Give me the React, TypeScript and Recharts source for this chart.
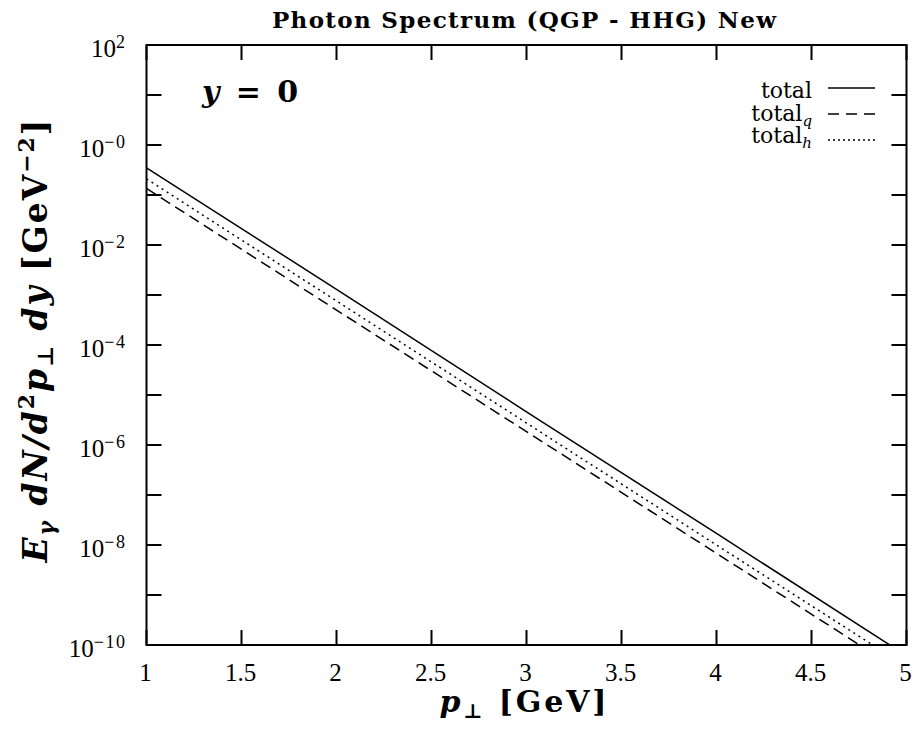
import { LineChart, Line, XAxis, YAxis, ReferenceArea, Legend, Customized } from 'recharts';

const pT = [1, 2, 3, 4, 5];
// E dN/d2p dy [GeV^-2]
const total = [0.35, 1.3e-3, 4.6e-6, 1.7e-8, 6.1e-11];
const totalQ = [0.135, 5.0e-4, 1.85e-6, 6.8e-9, 2.5e-11];
const totalH = [0.21, 7.6e-4, 2.75e-6, 1.0e-8, 3.7e-11];

const xTicks = [1, 1.5, 2, 2.5, 3, 3.5, 4, 4.5, 5];
const yTickExps = [2, 1, 0, -1, -2, -3, -4, -5, -6, -7, -8, -9, -10];

const data = pT.map((p, i) => ({ p, total: total[i], totalQ: totalQ[i], totalH: totalH[i] }));

const series = [
  { key: 'total', label: 'total', sub: '', dash: undefined as string | undefined, legendDash: undefined as string | undefined },
  { key: 'totalQ', label: 'total', sub: 'q', dash: '11 6', legendDash: '11 7' },
  { key: 'totalH', label: 'total', sub: 'h', dash: '2 4', legendDash: '2 3' },
];

const W = 917;
const H = 734;
// plot box: x 146.5..906.5, y 45..645 (axes take 1px each)
const margin = { top: 45, right: 10.5, bottom: 88, left: 145.5 };
const PL = 146.5;
const PR = W - margin.right;
const PT = margin.top;
const PB = 645;
const TICK = 15;

const tickFont = "'Liberation Serif', serif";
const mathFont = "'DejaVu Serif', serif";

const XTick = (props: any) => {
  const { x, payload } = props;
  return (
    <g>
      <line x1={x} y1={PB} x2={x} y2={PB - TICK} stroke="#000" strokeWidth={2} />
      <line x1={x} y1={PT} x2={x} y2={PT + TICK} stroke="#000" strokeWidth={2} />
      <text x={x - 1} y={PB + 36} textAnchor="middle" fontFamily={tickFont} fontSize={25} fill="#000">
        {payload.value}
      </text>
    </g>
  );
};

const YTick = (props: any) => {
  const { y, payload } = props;
  const exp = Math.round(Math.log10(payload.value));
  const major = exp % 2 === 0;
  const sup = exp > 0 ? String(exp) : '\u2212' + String(-exp);
  return (
    <g>
      <line x1={PL} y1={y} x2={PL + TICK} y2={y} stroke="#000" strokeWidth={2} />
      <line x1={PR} y1={y} x2={PR - TICK} y2={y} stroke="#000" strokeWidth={2} />
      {major && (
        <text x={PL - 20} y={y + 12} textAnchor="end" fontFamily={tickFont} fontSize={25} fill="#000">
          10
          <tspan dy={-9} fontSize={18} letterSpacing={1.5}>
            {sup}
          </tspan>
        </text>
      )}
    </g>
  );
};

const LegendBox = () => (
  <svg width={200} height={100} style={{ display: 'block' }}>
    {series.map((s, i) => (
      <g key={s.key}>
        <text x={112} y={28 + i * 22.5} textAnchor="end" fontFamily={mathFont} fontSize={22} fill="#000">
          {s.label}
          {s.sub && (
            <tspan dy={5} fontSize={15} fontStyle="italic">
              {s.sub}
            </tspan>
          )}
        </text>
        <line x1={128} x2={175} y1={18 + i * 26} y2={18 + i * 26} stroke="#000" strokeWidth={1.4} strokeDasharray={s.legendDash} />
      </g>
    ))}
  </svg>
);

const Annotations = () => (
  <g fill="#000">
    <text x={524} y={28} textAnchor="middle" fontFamily={mathFont} fontWeight="bold" fontSize={23} textLength={504} lengthAdjust="spacing">
      Photon Spectrum (QGP - HHG) New
    </text>
    <text x={202} y={102} fontFamily={mathFont} fontWeight="bold" fontSize={30} textLength={96} lengthAdjust="spacing">
      <tspan fontStyle="italic">y</tspan> = 0
    </text>
    <text x={523} y={712} textAnchor="middle" fontFamily={mathFont} fontWeight="bold" fontSize={30} textLength={167} lengthAdjust="spacing">
      <tspan fontStyle="italic">p</tspan>
      <tspan fontSize={20} dy={6}>⊥</tspan>
      <tspan dy={-6}> [GeV]</tspan>
    </text>
    <text transform="translate(47,341) rotate(-90)" textAnchor="middle" fontFamily={mathFont} fontWeight="bold" fontSize={33} textLength={443} lengthAdjust="spacing">
      <tspan fontStyle="italic">E</tspan>
      <tspan fontStyle="italic" fontSize={22} dy={7}>γ</tspan>
      <tspan fontStyle="italic" dy={-7}> dN/d</tspan>
      <tspan fontSize={22} dy={-13}>2</tspan>
      <tspan fontStyle="italic" dy={13}>p</tspan>
      <tspan fontSize={22} dy={6}>⊥</tspan>
      <tspan fontStyle="italic" dy={-6}> dy</tspan>
      <tspan> [GeV</tspan>
      <tspan fontSize={22} dy={-13}>{'\u2212'}2</tspan>
      <tspan dy={13}>]</tspan>
    </text>
  </g>
);

export default function App() {
  return (
    <div style={{ position: 'absolute', left: 0, top: 0, width: W, height: H, background: '#fff' }}>
      <LineChart width={W} height={H} data={data} margin={margin}>
        <XAxis
          dataKey="p"
          type="number"
          domain={[1, 5]}
          ticks={xTicks}
          height={1}
          tickSize={0}
          tickMargin={0}
          axisLine={false}
          tickLine={false}
          tick={<XTick />}
          interval={0}
        />
        <YAxis
          type="number"
          scale="log"
          domain={[1e-10, 1e2]}
          ticks={yTickExps.map((e) => Math.pow(10, e))}
          allowDataOverflow
          width={1}
          tickSize={0}
          tickMargin={0}
          axisLine={false}
          tickLine={false}
          tick={<YTick />}
          interval={0}
        />
        {series.map((s) => (
          <Line
            key={s.key}
            dataKey={s.key}
            type="linear"
            stroke="#000"
            strokeWidth={1.5}
            strokeDasharray={s.dash}
            dot={false}
            isAnimationActive={false}
          />
        ))}
        <ReferenceArea x1={1} x2={5} y1={1e-10} y2={1e2} fill="none" stroke="#000" strokeWidth={2} />
        <Legend
          layout="horizontal"
          verticalAlign="middle"
          align="center"
          wrapperStyle={{ left: 700, top: 70, width: 200 }}
          content={<LegendBox />}
        />
        <Customized component={Annotations} />
      </LineChart>
    </div>
  );
}
